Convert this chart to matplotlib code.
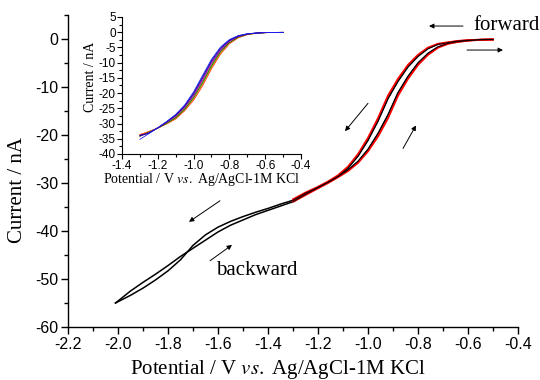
import matplotlib
matplotlib.use("Agg")
import matplotlib.pyplot as plt
from matplotlib.ticker import MultipleLocator

plt.rcParams['font.family'] = ['Liberation Sans', 'DejaVu Sans']
plt.rcParams['mathtext.fontset'] = 'stix'

# ---------------- main plot data ----------------
grid_hi = [-0.50, -0.55, -0.60, -0.64, -0.68, -0.72, -0.76, -0.80, -0.84, -0.88,
           -0.92, -0.96, -1.00, -1.04, -1.08, -1.12, -1.16, -1.20, -1.25, -1.30]
grid_lo = [-1.35, -1.40, -1.45, -1.50, -1.55, -1.60, -1.65, -1.70, -1.75, -1.80,
           -1.85, -1.90, -1.95, -2.01]

red_neg = [-0.1, -0.15, -0.25, -0.4, -0.7, -1.0, -1.8, -3.3, -5.4, -8.3,
           -11.8, -16.5, -20.6, -24.0, -26.6, -28.4, -29.7, -30.8, -32.0, -33.4]
red_pos = [-0.1, -0.15, -0.35, -0.6, -1.0, -1.8, -3.3, -5.4, -8.3, -11.8,
           -16.5, -20.3, -23.4, -25.8, -27.5, -28.8, -30.0, -31.1, -32.5, -33.9]

black_neg_hi = [-0.1, -0.15, -0.26, -0.42, -0.74, -1.1, -2.0, -3.6, -5.8, -8.8,
                -12.4, -17.1, -21.1, -24.4, -26.9, -28.6, -29.8, -30.9, -32.1, -33.6]
black_neg_lo = [-34.4, -35.3, -36.1, -37.0, -38.0, -39.2, -40.8, -43.0, -46.0, -48.3,
                -50.2, -51.9, -53.4, -55.0]
black_pos_hi = [-0.1, -0.15, -0.33, -0.56, -0.93, -1.65, -3.0, -5.0, -7.8, -11.2,
                -15.8, -19.7, -23.0, -25.5, -27.3, -28.7, -29.9, -31.0, -32.4, -33.9]
black_pos_lo = [-34.8, -35.7, -36.6, -37.7, -38.8, -40.2, -41.9, -43.6, -45.3, -47.2,
                -49.0, -50.7, -52.5, -55.0]

# ---------------- inset data ----------------
inset_V = [-1.30, -1.25, -1.20, -1.15, -1.10, -1.05, -1.00, -0.95, -0.90, -0.85,
           -0.80, -0.75, -0.70, -0.65, -0.60, -0.55, -0.50]
inset_blue = [-35.2, -33.3, -31.4, -29.3, -27.0, -23.9, -19.6, -14.2, -8.9, -4.9,
              -2.4, -1.1, -0.5, -0.25, -0.12, -0.07, -0.05]
inset_navy = [-33.9, -33.2, -31.4, -29.4, -27.2, -24.2, -20.0, -14.7, -9.3, -5.2,
              -2.6, -1.2, -0.54, -0.26, -0.12, -0.07, -0.05]
inset_purple = [-34.1, -33.1, -31.4, -29.5, -27.4, -24.4, -20.4, -15.2, -9.8, -5.6,
                -2.8, -1.3, -0.59, -0.28, -0.13, -0.07, -0.05]
inset_magenta = [-33.8, -33.0, -31.4, -29.6, -27.6, -24.7, -20.8, -15.7, -10.2, -5.9,
                 -3.0, -1.4, -0.63, -0.29, -0.13, -0.07, -0.05]
inset_olive = [-34.0, -32.9, -31.5, -29.8, -27.9, -25.0, -21.1, -16.1, -10.7, -6.2,
               -3.2, -1.5, -0.67, -0.31, -0.14, -0.08, -0.05]
inset_green = [-34.2, -32.8, -31.5, -29.9, -28.1, -25.3, -21.5, -16.6, -11.1, -6.5,
               -3.4, -1.6, -0.71, -0.32, -0.14, -0.08, -0.05]
inset_orange = [-33.7, -32.7, -31.5, -30.0, -28.3, -25.5, -21.9, -17.1, -11.6, -6.9,
                -3.6, -1.7, -0.76, -0.34, -0.15, -0.08, -0.05]
inset_red = [-33.6, -32.6, -31.5, -30.1, -28.5, -25.8, -22.3, -17.6, -12.0, -7.2,
             -3.8, -1.8, -0.8, -0.35, -0.15, -0.08, -0.05]

inset_series = [inset_red, inset_orange, inset_olive, inset_green, inset_magenta,
                inset_purple, inset_navy, inset_blue]
inset_colors = ['#ff1a00', '#ff8c00', '#9a9a00', '#008000', '#b000b0',
                '#7000c0', '#000080', '#2020ff']

x_ticks = [-2.2, -2.0, -1.8, -1.6, -1.4, -1.2, -1.0, -0.8, -0.6, -0.4]
y_ticks = [0, -10, -20, -30, -40, -50, -60]
inset_x_ticks = [-1.4, -1.2, -1.0, -0.8, -0.6, -0.4]
inset_y_ticks = [5, 0, -5, -10, -15, -20, -25, -30, -35, -40]

serif = ['Liberation Serif', 'DejaVu Serif']

fig = plt.figure(figsize=(5.4, 3.8), dpi=100)
ax = fig.add_axes([68 / 540, 1 - 327 / 380, 450 / 540, 312 / 380])

ax.plot(grid_hi + grid_lo, black_neg_hi + black_neg_lo, color='black', lw=1.1, zorder=2)
ax.plot(grid_hi + grid_lo, black_pos_hi + black_pos_lo, color='black', lw=1.1, zorder=2)
ax.plot(grid_hi, red_neg, color='#ff0000', lw=1.4, zorder=3)
ax.plot(grid_hi, red_pos, color='#ff0000', lw=1.4, zorder=3)
ax.plot(grid_hi, black_neg_hi, color='black', lw=0.6, zorder=4)
ax.plot(grid_hi, black_pos_hi, color='black', lw=0.6, zorder=4)

ax.set_xlim(-2.2, -0.4)
ax.set_ylim(-60, 5)
ax.set_xticks(x_ticks)
ax.set_xticklabels([f"{t:.1f}" for t in x_ticks])
ax.set_yticks(y_ticks)
ax.set_yticklabels([str(t) for t in y_ticks])
ax.xaxis.set_minor_locator(MultipleLocator(0.1))
ax.yaxis.set_minor_locator(MultipleLocator(5))
for s in ['top', 'right']:
    ax.spines[s].set_visible(False)
for s in ['left', 'bottom']:
    ax.spines[s].set_linewidth(1.0)
ax.tick_params(which='major', direction='out', length=5, width=1.0, labelsize=11.5, pad=2)
ax.tick_params(which='minor', direction='out', length=3, width=1.0)

ax.set_xlabel("Potential / V $\\it{vs.}$ Ag/AgCl-1M KCl", fontsize=15, family=serif)
ax.set_ylabel("Current / nA", fontsize=15, family=serif)
ax.xaxis.set_label_coords(0.467, -0.098)
ax.yaxis.set_label_coords(-0.091, 0.44)

arrow_kw = dict(arrowstyle='-|>', lw=0.7, color='black', mutation_scale=7,
                shrinkA=0, shrinkB=0)
ax.annotate('', xy=(-0.756, 2.7), xytext=(-0.62, 2.7), arrowprops=arrow_kw)
ax.annotate('', xy=(-0.46, -2.3), xytext=(-0.604, -2.3), arrowprops=arrow_kw)
ax.annotate('', xy=(-1.092, -19.2), xytext=(-1.0, -13.4), arrowprops=arrow_kw)
ax.annotate('', xy=(-0.808, -18.0), xytext=(-0.86, -22.8), arrowprops=arrow_kw)
ax.annotate('', xy=(-1.716, -38.1), xytext=(-1.592, -33.7), arrowprops=arrow_kw)
ax.annotate('', xy=(-1.544, -42.9), xytext=(-1.632, -46.2), arrowprops=arrow_kw)

ax.text(-0.58, 2.9, 'forward', fontsize=15, family=serif, ha='left', va='center')
ax.text(-1.608, -48.3, 'backward', fontsize=15, family=serif, ha='left', va='center')

# ---------------- inset ----------------
ins = fig.add_axes([122 / 540, 1 - 154 / 380, 179 / 540, 137 / 380])
for ys, c in zip(inset_series, inset_colors):
    ins.plot(inset_V, ys, color=c, lw=0.6)
ins.set_xlim(-1.4, -0.4)
ins.set_ylim(-40, 5)
ins.set_xticks(inset_x_ticks)
ins.set_xticklabels([f"{t:.1f}" for t in inset_x_ticks])
ins.set_yticks(inset_y_ticks)
ins.set_yticklabels([str(t) for t in inset_y_ticks])
ins.xaxis.set_minor_locator(MultipleLocator(0.1))
ins.yaxis.set_minor_locator(MultipleLocator(2.5))
for s in ['top', 'right']:
    ins.spines[s].set_visible(False)
for s in ['left', 'bottom']:
    ins.spines[s].set_linewidth(0.8)
ins.tick_params(which='major', direction='out', length=3.5, width=0.8, labelsize=8.5, pad=1)
ins.tick_params(which='minor', direction='out', length=2, width=0.8)
ins.set_xlabel("Potential / V $\\it{vs.}$ Ag/AgCl-1M KCl", fontsize=10, family=serif)
ins.set_ylabel("Current / nA", fontsize=10, family=serif)
ins.xaxis.set_label_coords(0.447, -0.125)
ins.yaxis.set_label_coords(-0.14, 0.56)

fig.savefig("out.png", dpi=100)
